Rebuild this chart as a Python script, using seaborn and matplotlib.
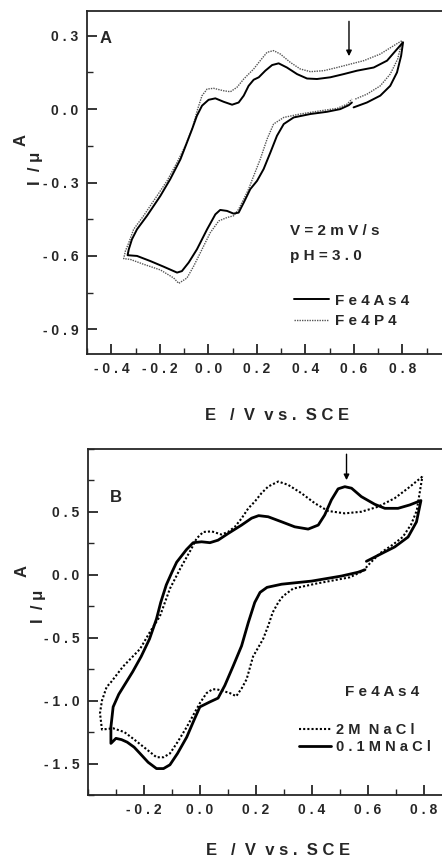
import numpy as np
import pandas as pd
import matplotlib
matplotlib.use("Agg")
import matplotlib.pyplot as plt
from matplotlib.lines import Line2D
from matplotlib.ticker import FixedLocator, FixedFormatter, MultipleLocator
import seaborn as sns

# ---------------- Panel A data (E / V vs SCE, I / uA) ----------------
a_as_E = [0.599, 0.654, 0.709, 0.750, 0.778, 0.795, 0.803,
          0.778, 0.737, 0.682, 0.613, 0.558, 0.503, 0.448, 0.407, 0.366, 0.324,
          0.290, 0.263, 0.235, 0.208, 0.187, 0.166, 0.146, 0.125, 0.098, 0.063,
          0.029, 0.001, -0.026, -0.047, -0.067, -0.088, -0.115, -0.157, -0.198,
          -0.253, -0.294, -0.315, -0.328, -0.333,
          -0.294, -0.239, -0.184, -0.129, -0.109, -0.081, -0.047, -0.005, 0.029,
          0.049, 0.077, 0.104, 0.125, 0.146, 0.173, 0.201, 0.228, 0.256, 0.283,
          0.311, 0.352, 0.421, 0.489, 0.544, 0.579, 0.592]
a_as_I = [0.007, 0.027, 0.055, 0.095, 0.150, 0.218, 0.273,
          0.245, 0.198, 0.170, 0.157, 0.143, 0.130, 0.123, 0.125, 0.143, 0.170,
          0.187, 0.180, 0.157, 0.130, 0.120, 0.095, 0.055, 0.027, 0.018, 0.030,
          0.044, 0.038, 0.014, -0.027, -0.082, -0.136, -0.205, -0.286, -0.355,
          -0.436, -0.491, -0.532, -0.573, -0.597,
          -0.600, -0.621, -0.644, -0.668, -0.662, -0.627, -0.573, -0.491, -0.430,
          -0.412, -0.416, -0.427, -0.423, -0.382, -0.327, -0.293, -0.245, -0.177, -0.109,
          -0.061, -0.034, -0.020, -0.011, 0.0, 0.016, 0.027]

a_p_E = [0.606, 0.654, 0.709, 0.750, 0.781, 0.799,
         0.764, 0.709, 0.641, 0.586, 0.531, 0.476, 0.421, 0.379, 0.338, 0.297,
         0.269, 0.242, 0.214, 0.187, 0.146, 0.118, 0.091, 0.063, 0.022, -0.005,
         -0.026, -0.044, -0.067, -0.095, -0.129, -0.170, -0.212, -0.267, -0.308,
         -0.328, -0.342, -0.349,
         -0.322, -0.267, -0.198, -0.143, -0.122, -0.088, -0.060, -0.026, 0.008,
         0.043, 0.077, 0.104, 0.125, 0.146, 0.166, 0.187, 0.214, 0.242, 0.269,
         0.311, 0.379, 0.462, 0.531, 0.572, 0.592]
a_p_I = [0.041, 0.061, 0.095, 0.143, 0.205, 0.280,
         0.259, 0.225, 0.198, 0.184, 0.170, 0.157, 0.153, 0.164, 0.191, 0.225,
         0.239, 0.232, 0.198, 0.164, 0.123, 0.089, 0.071, 0.075, 0.085, 0.082,
         0.055, 0.0, -0.082, -0.150, -0.218, -0.293, -0.355, -0.436, -0.491,
         -0.546, -0.580, -0.611,
         -0.614, -0.634, -0.657, -0.690, -0.712, -0.690, -0.641, -0.573, -0.505,
         -0.457, -0.443, -0.436, -0.409, -0.368, -0.327, -0.273, -0.205, -0.123, -0.061,
         -0.034, -0.020, -0.007, 0.003, 0.020, 0.041]

# ---------------- Panel B data ----------------
b_01_E = [0.595, 0.649, 0.696, 0.744, 0.774, 0.790,
          0.750, 0.708, 0.661, 0.625, 0.577, 0.542, 0.518, 0.494, 0.470, 0.446,
          0.423, 0.387, 0.339, 0.292, 0.244, 0.210, 0.185, 0.149, 0.101, 0.065,
          0.036, 0.006, -0.024, -0.048, -0.083, -0.100, -0.120, -0.140, -0.155,
          -0.180, -0.210, -0.240, -0.265, -0.290, -0.310, -0.318, -0.318,
          -0.300, -0.280, -0.260, -0.235, -0.214, -0.185, -0.155, -0.130, -0.107,
          -0.080, -0.047, -0.020, 0.0, 0.036, 0.065, 0.089, 0.119, 0.149, 0.173,
          0.196, 0.215, 0.240, 0.292, 0.400, 0.506, 0.565, 0.590]
b_01_I = [0.107, 0.168, 0.221, 0.300, 0.420, 0.590,
          0.555, 0.528, 0.528, 0.560, 0.621, 0.688, 0.700, 0.683, 0.595, 0.475,
          0.395, 0.363, 0.381, 0.421, 0.461, 0.470, 0.450, 0.395, 0.328, 0.275,
          0.255, 0.262, 0.255, 0.200, 0.100, 0.020, -0.080, -0.220, -0.350,
          -0.510, -0.650, -0.770, -0.860, -0.950, -1.050, -1.210, -1.340,
          -1.300, -1.310, -1.330, -1.370, -1.420, -1.490, -1.540, -1.540, -1.510,
          -1.420, -1.290, -1.150, -1.050, -1.010, -0.980, -0.880, -0.725, -0.565, -0.380,
          -0.220, -0.140, -0.100, -0.075, -0.050, -0.010, 0.020, 0.040]

b_2_E = [0.795, 0.744, 0.696, 0.637, 0.577, 0.518, 0.458, 0.411, 0.363, 0.315,
         0.280, 0.244, 0.220, 0.196, 0.173, 0.149, 0.125, 0.101, 0.077, 0.042,
         0.012, -0.012, -0.030, -0.070, -0.107, -0.143, -0.180, -0.214, -0.275,
         -0.320, -0.333, -0.350, -0.357, -0.350,
         -0.310, -0.270, -0.240, -0.200, -0.155, -0.130, -0.107, -0.080, -0.047,
         -0.020, 0.0, 0.024, 0.045, 0.060, 0.085, 0.107, 0.130, 0.150, 0.167,
         0.190, 0.226, 0.245, 0.260, 0.280, 0.297, 0.333, 0.416, 0.536, 0.583,
         0.607, 0.643, 0.690, 0.725, 0.755, 0.775, 0.795]
b_2_I = [0.780, 0.688, 0.608, 0.541, 0.501, 0.488, 0.507, 0.568, 0.648, 0.715,
         0.741, 0.701, 0.648, 0.581, 0.528, 0.448, 0.381, 0.341, 0.320, 0.345,
         0.340, 0.288, 0.208, 0.050, -0.110, -0.330, -0.460, -0.590, -0.730,
         -0.860, -0.890, -1.000, -1.100, -1.230,
         -1.220, -1.250, -1.300, -1.370, -1.450, -1.450, -1.420, -1.330, -1.210,
         -1.100, -1.020, -0.940, -0.910, -0.910, -0.925, -0.940, -0.965, -0.900, -0.830,
         -0.650, -0.510, -0.400, -0.300, -0.220, -0.170, -0.110, -0.070, -0.020, 0.030,
         0.090, 0.170, 0.240, 0.300, 0.400, 0.510, 0.780]

a_xticks = [-0.4, -0.2, 0.0, 0.2, 0.4, 0.6, 0.8]
a_xlabels = ["- 0 . 4", "- 0 . 2", "0 . 0", "0 . 2", "0 . 4", "0 . 6", "0 . 8"]
a_yticks = [0.3, 0.0, -0.3, -0.6, -0.9]
a_ylabels = ["0 . 3", "0 . 0", "- 0 . 3", "- 0 . 6", "- 0 . 9"]
b_xticks = [-0.2, 0.0, 0.2, 0.4, 0.6, 0.8]
b_xlabels = ["- 0 . 2", "0 . 0", "0 . 2", "0 . 4", "0 . 6", "0 . 8"]
b_yticks = [0.5, 0.0, -0.5, -1.0, -1.5]
b_ylabels = ["0 . 5", "0 . 0", "- 0 . 5", "- 1 . 0", "- 1 . 5"]

sns.set_style("ticks")
plt.rcParams['font.family'] = ['Liberation Sans', 'DejaVu Sans']
plt.rcParams['font.weight'] = 'bold'

fig = plt.figure(figsize=(4.42, 8.63), dpi=100)
axA = fig.add_axes([0.197, 0.590, 0.823, 0.397])
axB = fig.add_axes([0.199, 0.0788, 0.823, 0.401])

def draw(ax, E, I, **kw):
    df = pd.DataFrame({"E": E, "I": I})
    sns.lineplot(data=df, x="E", y="I", sort=False, estimator=None, ax=ax,
                 solid_joinstyle="round", **kw)

# Panel A
draw(axA, a_p_E, a_p_I, color="#555555", lw=1.0, linestyle=(0, (1, 0.8)))
draw(axA, a_as_E, a_as_I, color="black", lw=1.4)
axA.set_xlim(-0.5, 1.0)
axA.set_ylim(-1.0, 0.4)

# Panel B
draw(axB, b_2_E, b_2_I, color="black", lw=1.5, linestyle=(0, (1, 1)))
draw(axB, b_01_E, b_01_I, color="black", lw=2.0)
axB.set_xlim(-0.4, 0.9)
axB.set_ylim(-1.75, 1.0)

for ax, xt, xl, yt, yl, ymin in [(axA, a_xticks, a_xlabels, a_yticks, a_ylabels, 0.15),
                                  (axB, b_xticks, b_xlabels, b_yticks, b_ylabels, 0.25)]:
    ax.xaxis.set_major_locator(FixedLocator(xt))
    ax.xaxis.set_major_formatter(FixedFormatter(xl))
    ax.yaxis.set_major_locator(FixedLocator(yt))
    ax.yaxis.set_major_formatter(FixedFormatter(yl))
    ax.xaxis.set_minor_locator(MultipleLocator(0.1))
    ax.yaxis.set_minor_locator(MultipleLocator(ymin))
    ax.tick_params(which="major", direction="in", length=7, width=1.3, labelsize=10, pad=6)
    ax.tick_params(which="minor", direction="in", length=4, width=1.0)
    for lab in ax.get_xticklabels() + ax.get_yticklabels():
        lab.set_fontweight("bold")
    for s in ax.spines.values():
        s.set_linewidth(1.3)
    ax.set_xlabel("")
    ax.set_ylabel("")

# Annotations panel A
axA.text(0.035, 0.92, "A", transform=axA.transAxes, fontsize=12, fontweight="bold", va="center")
axA.annotate("", xy=(0.58, 0.205), xytext=(0.58, 0.37),
             arrowprops=dict(arrowstyle="-|>", color="black", lw=1.0, mutation_scale=8))
axA.text(0.338, -0.50, "V = 2 m V / s", fontsize=11, fontweight="bold", va="center")
axA.text(0.338, -0.60, "p H = 3 . 0", fontsize=11, fontweight="bold", va="center")
hA = [Line2D([], [], color="black", lw=1.4),
      Line2D([], [], color="#555555", lw=1.0, linestyle=(0, (1, 0.8)))]
axA.legend(hA, ["F e 4 A s 4", "F e 4 P 4"], loc="center left",
           bbox_to_anchor=(0.53, 0.125), frameon=False,
           handlelength=2.3, handletextpad=0.4, labelspacing=0.45,
           prop={"weight": "bold", "size": 11})

# Annotations panel B
axB.text(0.06, 0.86, "B", transform=axB.transAxes, fontsize=12, fontweight="bold", va="center")
axB.annotate("", xy=(0.524, 0.73), xytext=(0.524, 0.98),
             arrowprops=dict(arrowstyle="-|>", color="black", lw=1.0, mutation_scale=8))
axB.text(0.518, -0.93, "F e 4 A s 4", fontsize=11, fontweight="bold", va="center")
hB = [Line2D([], [], color="black", lw=1.5, linestyle=(0, (1, 1))),
      Line2D([], [], color="black", lw=2.0)]
axB.legend(hB, ["2 M  N a C l", "0 . 1 M N a C l"], loc="center left",
           bbox_to_anchor=(0.545, 0.162), frameon=False,
           handlelength=2.2, handletextpad=0.3, labelspacing=0.2,
           prop={"weight": "bold", "size": 10.5})

# Axis labels
fig.text(0.627, 0.519, "E   /  V  v s .  S C E", fontsize=12, fontweight="bold", ha="center", va="center")
fig.text(0.629, 0.015, "E   /  V  v s .  S C E", fontsize=12, fontweight="bold", ha="center", va="center")
fig.text(0.081, 0.805, "I  / μ", fontsize=12, fontweight="bold", rotation=90, ha="center", va="center")
fig.text(0.048, 0.838, "A", fontsize=12, fontweight="bold", rotation=90, ha="center", va="center")
fig.text(0.086, 0.297, "I  / μ", fontsize=12, fontweight="bold", rotation=90, ha="center", va="center")
fig.text(0.050, 0.338, "A", fontsize=12, fontweight="bold", rotation=90, ha="center", va="center")

fig.savefig("out.png", dpi=100)
